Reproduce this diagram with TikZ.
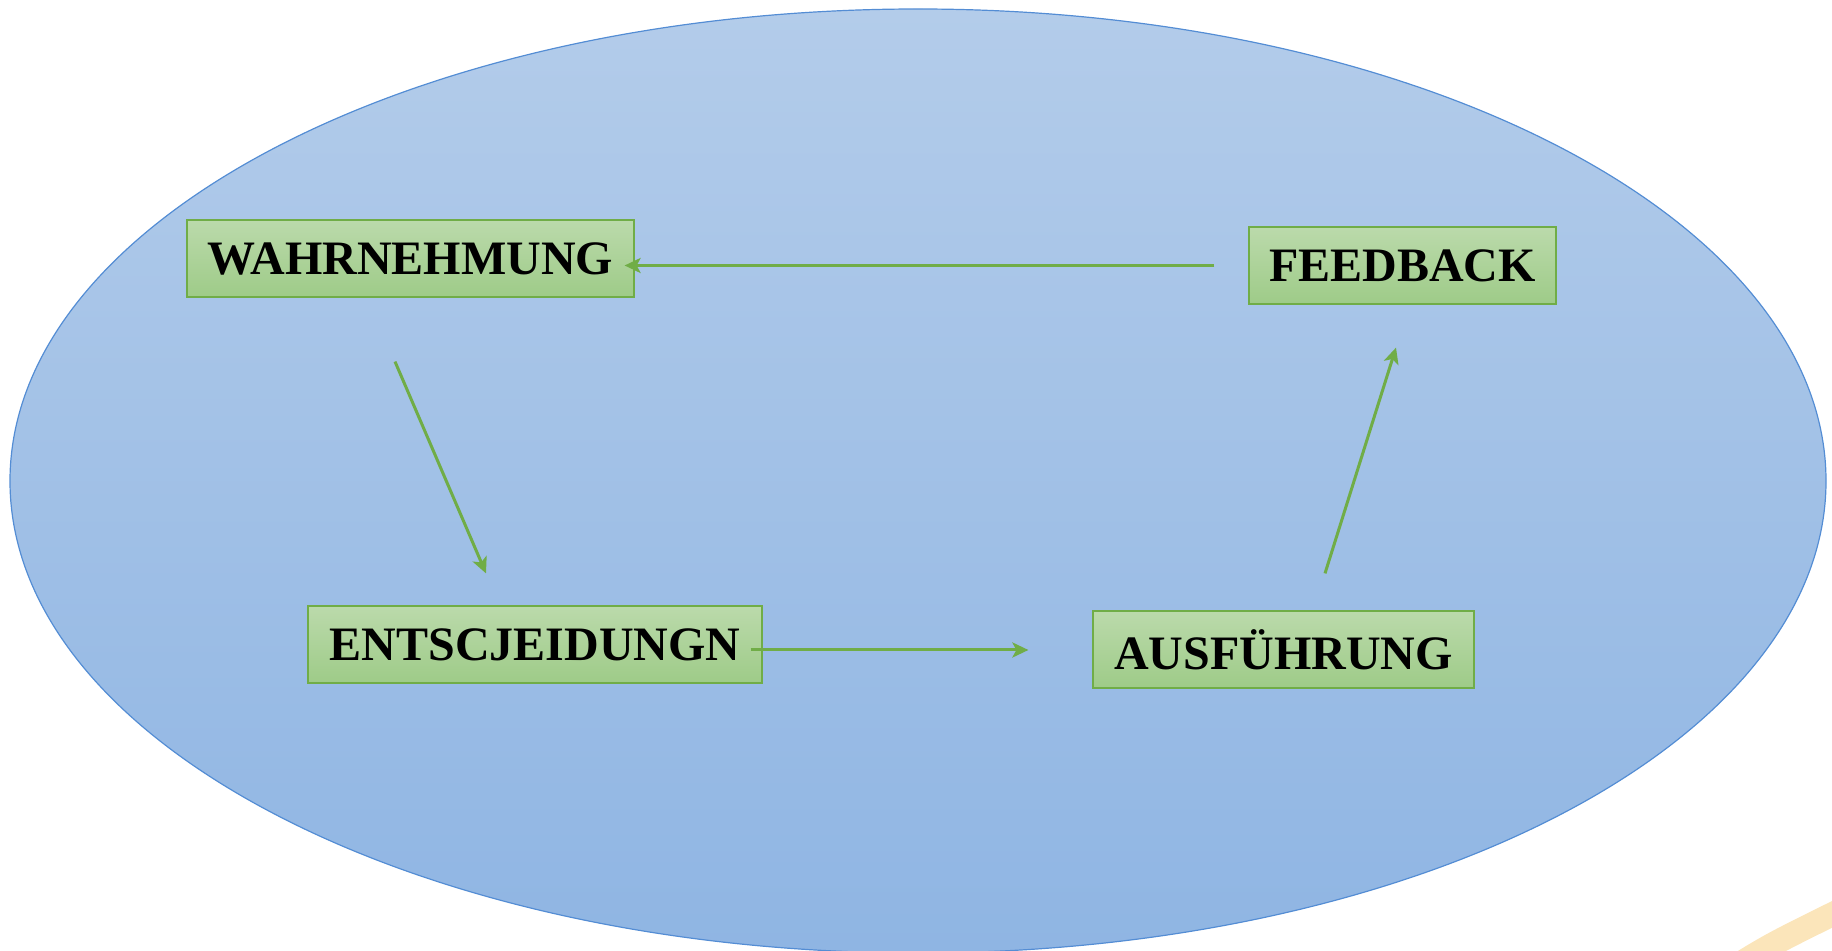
\documentclass[tikz,border=0pt]{standalone}
\usepackage{fontspec}
\setmainfont{Liberation Serif}
\usetikzlibrary{positioning,arrows.meta}
\definecolor{skytop}{RGB}{179,204,234}
\definecolor{skybot}{RGB}{143,181,227}
\definecolor{skyline}{RGB}{84,141,212}
\definecolor{leaftop}{RGB}{187,218,171}
\definecolor{leafbot}{RGB}{158,203,136}
\definecolor{leafline}{RGB}{112,173,71}
\definecolor{sand}{RGB}{251,229,186}

\begin{document}
\begin{tikzpicture}
[x=0.5pt, y=-0.5pt,
 sky/.style={draw=skyline, line width=0.6pt, top color=skytop, bottom color=skybot},
 stage/.style={draw=leafline, line width=0.6pt, top color=leaftop, bottom color=leafbot,
   minimum height=38.5pt, inner sep=0pt, font=\fontsize{24}{28}\selectfont\bfseries},
 flow/.style={-{Stealth[length=8pt,width=7.5pt,inset=2pt]}, line width=1.5pt, draw=leafline}]
\useasboundingbox (0,0) rectangle (1832,951);
\clip (0,0) rectangle (1832,951);
\draw[draw=sand, line width=12pt] (1722,975) .. controls (1770,945) .. (1845,908);
\draw[sky] (918,481) ellipse [x radius=908, y radius=472];
\node[stage, minimum width=223.5pt] (wahr) at (410.5,258.5) {WAHRNEHMUNG};
\node[stage, minimum width=153.5pt] (feed) at (1402.5,265.5) {FEEDBACK};
\node[stage, minimum width=227pt] (entsch) at (535,644.5) {ENTSCJEIDUNGN};
\node[stage, minimum width=190.5pt] (ausf) at (1283.5,649.5) {AUSFÜHRUNG};
\draw[flow] ([shift={(-34,0)}]feed.west) -- ([shift={(-10,7)}]wahr.east);
\draw[flow] ([shift={(-15.5,64)}]wahr.south) -- ([shift={(-49,-32)}]entsch.north);
\draw[flow] ([shift={(-12,5.5)}]entsch.east) -- ([shift={(-64,0.5)}]ausf.west);
\draw[flow] ([shift={(41.5,-37)}]ausf.north) -- ([shift={(-6.5,43)}]feed.south);
\end{tikzpicture}
\end{document}
